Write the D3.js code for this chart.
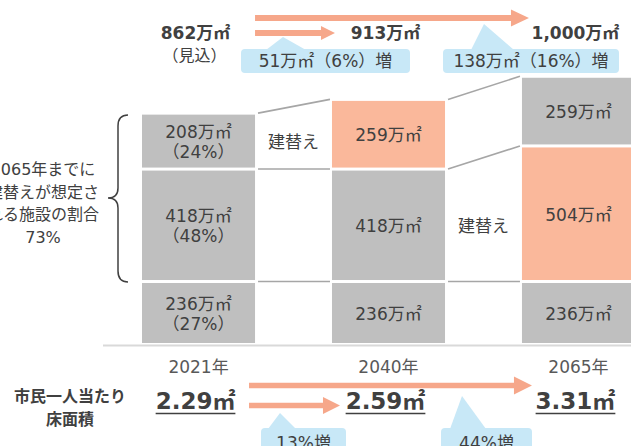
<!DOCTYPE html>
<html>
<head>
<meta charset="utf-8">
<script src="https://cdn.jsdelivr.net/npm/d3@7"></script>
<style>
    body { margin: 0; background: #fff; }
    text { font-family: "DejaVu Sans", "Noto Sans CJK JP", sans-serif; fill: #404040; }
</style>
</head>
<body>
<div id="chart"></div>
<script>
// floor area (万㎡) by year, stacked bottom -> top
const years = ['2021年', '2040年', '2065年'];
const remainArea = [236, 236, 236];
const midArea = [418, 418, 504];
const topArea = [208, 259, 259];
// which segments are newly rebuilt (salmon)
const midRebuilt = [false, false, true];
const topRebuilt = [false, true, false];
const shareLabels = ['（27%）', '（48%）', '（24%）'];
const totalLabels = ['862万㎡', '913万㎡', '1,000万㎡'];
const perCapita = ['2.29㎡', '2.59㎡', '3.31㎡'];
const areaGrowth = ['51万㎡（6%）増', '138万㎡（16%）増'];
const perCapitaGrowth = ['13%増', '44%増'];
const noteLines = ['2065年までに', '建替えが想定さ', 'れる施設の割合', '73%'];

const width = 631, height = 446;
const gray = '#bfbfbf', salmon = '#fab89b', arrowColor = '#f6a78a', calloutColor = '#c8e8f7';

const svg = d3.select('#chart').append('svg')
    .attr('width', width)
    .attr('height', height);

const x = d3.scaleBand().domain(years).range([142, 635]).paddingInner(0.405);
const y = d3.scaleLinear().domain([0, 1000]).range([345, 76]);
const bw = x.bandwidth();
const cx = yr => x(yr) + bw / 2;

// build stacked segments
const segSeries = [remainArea, midArea, topArea];
const flags = [[false, false, false], midRebuilt, topRebuilt];
const cols = years.map((yr, i) => {
    let cum = 0;
    return segSeries.map((s, j) => {
        const d = { yr, i, j, v: s[i], y0: cum, y1: cum + s[i], fresh: flags[j][i] };
        cum += s[i];
        return d;
    });
});
const segs = cols.flat();

// baseline
svg.append('line')
    .attr('x1', 103).attr('x2', width)
    .attr('y1', y(0) + 0.5).attr('y2', y(0) + 0.5)
    .style('stroke', '#d9d9d9').style('stroke-width', 2);

// connector lines between columns
for (let i = 0; i < years.length - 1; i++) {
    cols[i].forEach((d, j) => {
        const next = cols[i + 1][j];
        svg.append('line')
            .attr('x1', x(years[i]) + bw + 3)
            .attr('x2', x(years[i + 1]) - 2)
            .attr('y1', y(d.y1))
            .attr('y2', y(next.y1))
            .style('stroke', '#a6a6a6')
            .style('stroke-width', 1.6);
    });
}

// bars
svg.selectAll('.seg')
    .data(segs)
    .enter()
    .append('rect')
    .attr('class', 'seg')
    .attr('x', d => x(d.yr))
    .attr('width', bw)
    .attr('y', d => y(d.y1) + 1.5)
    .attr('height', d => (d.j === 0 ? y(0) - 2 : y(d.y0) - 1.5) - (y(d.y1) + 1.5))
    .style('fill', d => d.fresh ? salmon : gray);

// segment labels
segs.forEach(d => {
    const mid = (y(d.y0) + y(d.y1)) / 2;
    const t = svg.append('text')
        .attr('x', cx(d.yr))
        .attr('text-anchor', 'middle')
        .style('font-size', '17px');
    if (d.i === 0) {
        t.attr('y', mid - 3).text(d.v + '万㎡');
        svg.append('text')
            .attr('x', cx(d.yr))
            .attr('y', mid + 17)
            .attr('text-anchor', 'middle')
            .style('font-size', '17px')
            .text(shareLabels[d.j]);
    } else {
        t.attr('y', mid + 7).text(d.v + '万㎡');
    }
});

// 建替え labels
const g1 = cols[0][2];
svg.append('text')
    .attr('x', (x(years[0]) + bw + x(years[1])) / 2)
    .attr('y', (y(g1.y0) + y(g1.y1)) / 2 + 7)
    .attr('text-anchor', 'middle')
    .style('font-size', '17px')
    .text('建替え');
const g2 = cols[1][1];
svg.append('text')
    .attr('x', (x(years[1]) + bw + x(years[2])) / 2)
    .attr('y', (y(g2.y0) + y(g2.y1)) / 2 + 7)
    .attr('text-anchor', 'middle')
    .style('font-size', '17px')
    .text('建替え');

// arrows
function arrow(x0, x1, cy, shaft, head, len) {
    const pts = [
        [x0, cy - shaft / 2], [x1 - len, cy - shaft / 2], [x1 - len, cy - head / 2],
        [x1, cy], [x1 - len, cy + head / 2], [x1 - len, cy + shaft / 2], [x0, cy + shaft / 2]
    ];
    svg.append('polygon')
        .attr('points', pts.map(p => p.join(',')).join(' '))
        .style('fill', arrowColor);
}

function callout(bx, by, w, h, tip, baseL, baseR, label, ty) {
    svg.append('polygon')
        .attr('points', `${baseL},${by + 1} ${tip[0]},${tip[1]} ${baseR},${by + 1}`)
        .style('fill', calloutColor);
    svg.append('rect')
        .attr('x', bx).attr('y', by)
        .attr('width', w).attr('height', h)
        .attr('rx', 4)
        .style('fill', calloutColor);
    svg.append('text')
        .attr('x', bx + w / 2)
        .attr('y', ty)
        .attr('text-anchor', 'middle')
        .style('font-size', '17px')
        .text(label);
}

// top: total floor area
const x0 = x(years[0]) + bw;
arrow(x0, x(years[2]) + 7, 18, 6, 17, 18);
arrow(x0, x(years[1]) + 3, 33, 6, 14, 14);

totalLabels.forEach((lab, i) => {
    svg.append('text')
        .attr('x', cx(years[i]) - 3)
        .attr('y', 39)
        .attr('text-anchor', 'middle')
        .style('font-size', '17px')
        .style('font-weight', 'bold')
        .text(lab);
});
svg.append('text')
    .attr('x', cx(years[0]) - 4)
    .attr('y', 61)
    .attr('text-anchor', 'middle')
    .style('font-size', '16px')
    .text('（見込）');

callout(241, 49, 169, 24, [283, 37], 266, 306, areaGrowth[0], 67);
callout(443, 49, 176, 24, [484, 24], 471, 514, areaGrowth[1], 67);

// left brace and note
svg.append('path')
    .attr('d', 'M128,115 Q118,115 118,126 L118,188 Q118,198 108,198 Q118,198 118,208 L118,271 Q118,282 128,282')
    .style('fill', 'none')
    .style('stroke', '#404040')
    .style('stroke-width', 1.5);

noteLines.forEach((line, i) => {
    svg.append('text')
        .attr('x', 43)
        .attr('y', 175 + i * 22.5)
        .attr('text-anchor', 'middle')
        .style('font-size', '16px')
        .text(line);
});

// bottom: per capita floor area
years.forEach(yr => {
    svg.append('text')
        .attr('x', cx(yr))
        .attr('y', 373)
        .attr('text-anchor', 'middle')
        .style('font-size', '17px')
        .style('fill', '#595959')
        .text(yr);
});

svg.append('text')
    .attr('x', 70).attr('y', 402)
    .attr('text-anchor', 'middle')
    .style('font-size', '16px')
    .style('font-weight', 'bold')
    .text('市民一人当たり');
svg.append('text')
    .attr('x', 70).attr('y', 425)
    .attr('text-anchor', 'middle')
    .style('font-size', '16px')
    .style('font-weight', 'bold')
    .text('床面積');

arrow(x0 - 6, x(years[2]) + 10, 385.5, 5.5, 18, 18);
arrow(x0 - 6, x(years[1]) + 8, 405.5, 5.5, 17, 17);

perCapita.forEach((v, i) => {
    const t = svg.append('text')
        .attr('x', cx(years[i]) - 3)
        .attr('y', 409)
        .attr('text-anchor', 'middle')
        .style('font-size', '23px')
        .style('font-weight', 'bold')
        .text(v);
    const bb = t.node().getBBox();
    svg.append('line')
        .attr('x1', bb.x).attr('x2', bb.x + bb.width)
        .attr('y1', 413.5).attr('y2', 413.5)
        .style('stroke', '#404040')
        .style('stroke-width', 1.5);
});

callout(261, 428, 85, 30, [280, 413], 268, 296, perCapitaGrowth[0], 449);
callout(441, 428, 91, 30, [462, 396], 450, 486, perCapitaGrowth[1], 449);
</script>
</body>
</html>
